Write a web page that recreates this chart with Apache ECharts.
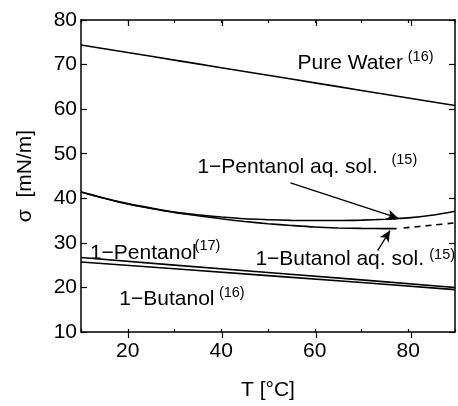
<!DOCTYPE html>
<html>
<head>
<meta charset="utf-8">
<script src="https://cdn.jsdelivr.net/npm/echarts@6/dist/echarts.min.js"></script>
<style>
html,body{margin:0;padding:0;background:#fff;}
#c{width:458px;height:406px;}
</style>
</head>
<body>
<div id="c"></div>
<script>
// ---- data ----
const T_WATER = [10, 20, 30, 40, 50, 60, 70, 80, 90];
const SIGMA_WATER = [74.4, 72.7, 71.0, 69.3, 67.6, 65.9, 64.2, 62.5, 60.8];

const T_PENT_AQ = [10, 15, 20, 25, 30, 35, 40, 45, 50, 55, 60, 65, 70, 75, 80, 85, 90];
const SIGMA_PENT_AQ = [41.4, 40.0, 38.8, 37.8, 36.9, 36.3, 35.8, 35.4, 35.2, 35.05, 35.0, 35.0, 35.1, 35.3, 35.6, 36.2, 37.1];

const T_BUT_AQ = [10, 15, 20, 25, 30, 35, 40, 45, 50, 55, 60, 65, 70, 75, 77.5];
const SIGMA_BUT_AQ = [41.4, 40.0, 38.7, 37.7, 36.8, 36.1, 35.4, 34.8, 34.3, 33.9, 33.55, 33.35, 33.25, 33.2, 33.2];

const T_BUT_AQ_EXT = [79, 85, 90];
const SIGMA_BUT_AQ_EXT = [33.35, 33.95, 34.5];

const T_ALC = [10, 30, 50, 70, 90];
const SIGMA_PENTANOL = [26.7, 25.0, 23.35, 21.7, 20.0];
const SIGMA_BUTANOL = [25.7, 24.2, 22.65, 21.1, 19.5];

const X_TICK_LABELS = [20, 40, 60, 80];
const X_MAJOR_TICKS = [20, 40, 60, 80];
const Y_TICKS = [10, 20, 30, 40, 50, 60, 70, 80];

const ARROW_PENT_AQ = [[54.8, 43.46], [77.85, 35.54]];
const ARROW_BUT_AQ = [[73.45, 28.27], [76.1, 32.75]];

// annotation texts: [text, T, sigma, fontSize]  (left edge, vertical middle)
const LABELS = [
  ['Pure Water', 56.3, 70.4, 21],
  ['(16)', 79.9, 71.7, 14.5],
  ['1\u2212Pentanol aq. sol.', 34.9, 46.9, 21],
  ['(15)', 76.4, 48.7, 14.5],
  ['1\u2212Pentanol', 11.9, 27.6, 21],
  ['(17)', 34.3, 29.4, 14.5],
  ['1\u2212Butanol aq. sol.', 47.3, 26.3, 21],
  ['(15)', 84.5, 27.3, 14.5],
  ['1\u2212Butanol', 18.2, 17.3, 21],
  ['(16)', 39.5, 18.8, 14.5]
];

const pairs = (xs, ys) => xs.map((x, i) => [x, ys[i]]);

const FONT = '"Liberation Sans", Arial, sans-serif';
const chart = echarts.init(document.getElementById('c'), null, {renderer: 'canvas'});

const gridPos = {left: 81, top: 20, right: -5, bottom: 68};

const baseX = {type: 'value', min: 10, max: 90, interval: 10, splitLine: {show: false}};
const baseY = {type: 'value', min: 10, max: 80, interval: 10, splitLine: {show: false}};

function lineSeries(data, dashed, smooth) {
  return {
    type: 'line', xAxisIndex: 0, yAxisIndex: 0, data: data, symbol: 'none',
    smooth: smooth ? 0.3 : false, silent: true,
    lineStyle: {color: '#000', width: 1.6, type: dashed ? [6, 5] : 'solid'}
  };
}

function arrow(a) {
  return [{coord: a[0], symbol: 'none'}, {coord: a[1], symbol: 'arrow', symbolSize: [8, 11]}];
}

const option = {
  backgroundColor: '#fff',
  animation: false,
  grid: [Object.assign({}, gridPos), Object.assign({}, gridPos)],
  xAxis: [
    Object.assign({}, baseX, {
      gridIndex: 0, position: 'bottom',
      name: 'T [\u00B0C]', nameLocation: 'middle', nameGap: 48,
      nameTextStyle: {color: '#000', fontSize: 21, fontFamily: FONT},
      axisLine: {lineStyle: {color: '#000', width: 1.5}},
      axisTick: {inside: true, length: 3, lineStyle: {color: '#000', width: 1.2}},
      axisLabel: {color: '#000', fontSize: 21, fontFamily: FONT, margin: 9,
        formatter: v => X_TICK_LABELS.includes(v) ? String(v) : ''}
    }),
    Object.assign({}, baseX, {
      gridIndex: 0, position: 'top',
      axisLine: {lineStyle: {color: '#000', width: 1.5}},
      axisTick: {inside: true, length: 3, lineStyle: {color: '#000', width: 1.2}},
      axisLabel: {show: false}
    }),
    Object.assign({}, baseX, {
      gridIndex: 1, position: 'bottom',
      axisLine: {show: false},
      axisTick: {inside: true, length: 6, customValues: X_MAJOR_TICKS, lineStyle: {color: '#000', width: 1.2}},
      axisLabel: {show: false}
    }),
    Object.assign({}, baseX, {
      gridIndex: 1, position: 'top',
      axisLine: {show: false},
      axisTick: {inside: true, length: 6, customValues: X_MAJOR_TICKS, lineStyle: {color: '#000', width: 1.2}},
      axisLabel: {show: false}
    })
  ],
  yAxis: [
    Object.assign({}, baseY, {
      gridIndex: 0, position: 'left',
      name: '\u03C3  [mN/m]', nameLocation: 'middle', nameGap: 45, nameRotate: 90,
      nameTextStyle: {color: '#000', fontSize: 21, fontFamily: FONT},
      axisLine: {lineStyle: {color: '#000', width: 1.5}},
      axisTick: {inside: true, length: 6, lineStyle: {color: '#000', width: 1.2}},
      axisLabel: {color: '#000', fontSize: 21, fontFamily: FONT, margin: 4,
        formatter: v => Y_TICKS.includes(v) ? String(v) : ''}
    }),
    Object.assign({}, baseY, {
      gridIndex: 0, position: 'right',
      axisLine: {lineStyle: {color: '#000', width: 1.5}},
      axisTick: {inside: true, length: 6, lineStyle: {color: '#000', width: 1.2}},
      axisLabel: {show: false}
    }),
    Object.assign({}, baseY, {gridIndex: 1, show: false}),
    Object.assign({}, baseY, {gridIndex: 1, position: 'right', show: false})
  ],
  series: [
    lineSeries(pairs(T_WATER, SIGMA_WATER), false, true),
    Object.assign(lineSeries(pairs(T_PENT_AQ, SIGMA_PENT_AQ), false, true), {
      markLine: {silent: true, animation: false, label: {show: false},
        lineStyle: {color: '#000', width: 1.3, type: 'solid'},
        data: [arrow(ARROW_PENT_AQ), arrow(ARROW_BUT_AQ)]}
    }),
    lineSeries(pairs(T_BUT_AQ, SIGMA_BUT_AQ), false, true),
    lineSeries(pairs(T_BUT_AQ_EXT, SIGMA_BUT_AQ_EXT), true, true),
    lineSeries(pairs(T_ALC, SIGMA_PENTANOL), false, false),
    lineSeries(pairs(T_ALC, SIGMA_BUTANOL), false, false)
  ]
};

chart.setOption(option);

const graphics = LABELS.map(l => {
  const p = chart.convertToPixel({gridIndex: 0}, [l[1], l[2]]);
  return {
    type: 'text', x: p[0], y: p[1], silent: true, z: 100,
    style: {text: l[0], fill: '#000', font: l[3] + 'px ' + FONT,
      textAlign: 'left', textVerticalAlign: 'middle'}
  };
});
chart.setOption({graphic: graphics});
</script>
</body>
</html>
